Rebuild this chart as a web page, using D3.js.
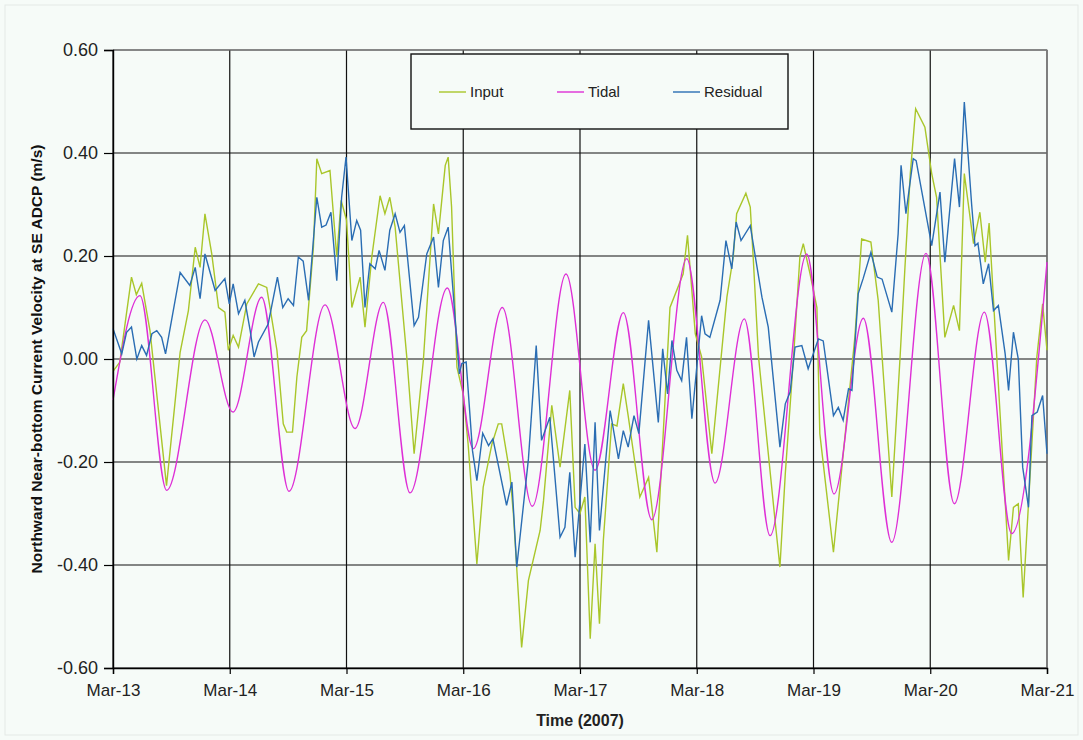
<!DOCTYPE html>
<html>
<head>
    <script src="https://cdn.jsdelivr.net/npm/d3@7"></script>
    <style>
        body { margin: 0; background: #f6fbf8; }
        text { font-family: "Liberation Sans", Arial, sans-serif; }
    </style>
</head>

<body>
<div id="chart"></div>

<script>

    // hours after Mar-13 00:00, velocity (m/s)
    var inputData = [
        [0, -0.024], [1.4, -0.006], [3.8, 0.159], [4.8, 0.125], [5.9, 0.147], [7.6, 0.055], [11.0, -0.246],
        [13.8, 0.013], [15.5, 0.094], [16.9, 0.217], [17.9, 0.178], [18.9, 0.282], [20.3, 0.204], [21.7, 0.10],
        [23.0, 0.091], [23.7, 0.017], [24.7, 0.046], [25.8, 0.023], [27.5, 0.107], [29.9, 0.146], [31.6, 0.139],
        [32.6, 0.081], [33.7, 0.017], [35.0, -0.126], [35.7, -0.142], [36.9, -0.142], [37.8, -0.035],
        [38.8, 0.042], [39.8, 0.055], [41.2, 0.217], [41.9, 0.389], [42.9, 0.36], [44.6, 0.366], [46.0, 0.198],
        [46.9, 0.308], [48.0, 0.27], [49.1, 0.10], [50.8, 0.159], [51.8, 0.062], [53.2, 0.198], [54.9, 0.317],
        [55.9, 0.282], [56.9, 0.314], [58.0, 0.256], [60.4, 0.003], [61.9, -0.184], [63.8, -0.003],
        [65.9, 0.301], [66.9, 0.243], [68.3, 0.376], [68.9, 0.392], [69.6, 0.295], [70.7, -0.016],
        [72.0, -0.068], [73.0, -0.165], [74.8, -0.398], [76.1, -0.249], [77.9, -0.165], [79.2, -0.126],
        [79.9, -0.126], [81.6, -0.223], [82.3, -0.30], [84.0, -0.56], [85.4, -0.43], [87.8, -0.333],
        [88.5, -0.275], [90.2, -0.09], [91.9, -0.21], [93.9, -0.061], [95.0, -0.288], [96.0, -0.30],
        [97.0, -0.268], [98.1, -0.543], [99.1, -0.359], [100.0, -0.514], [100.8, -0.352], [102.5, -0.126],
        [103.6, -0.13], [104.9, -0.048], [105.9, -0.11], [108.3, -0.268], [110.1, -0.23], [111.8, -0.375],
        [114.5, 0.10], [117.2, 0.165], [118.1, 0.24], [119.7, 0.049], [121.0, 0.004], [123.1, -0.184],
        [126.2, 0.12], [127.5, 0.198], [128.2, 0.282], [130.1, 0.322], [131.0, 0.295], [131.6, 0.198],
        [132.7, 0.004], [136.1, -0.314], [137.1, -0.404], [138.2, -0.223], [139.9, 0.004], [141.2, 0.198],
        [141.9, 0.224], [143.3, 0.165], [144.7, 0.10], [145.3, -0.145], [148.1, -0.375], [152.5, 0.042],
        [153.9, 0.233], [155.8, 0.227], [157.3, 0.114], [160.1, -0.268], [161.8, 0.004], [162.8, 0.178],
        [163.9, 0.36], [165.0, 0.486], [166.9, 0.45], [168.3, 0.36], [169.3, 0.314], [171.0, 0.042],
        [172.8, 0.104], [174.0, 0.055], [175.0, 0.36], [176.9, 0.224], [178.2, 0.285], [179.3, 0.188],
        [180.1, 0.264], [181.0, 0.114], [184.1, -0.391], [185.1, -0.288], [186.1, -0.281], [187.1, -0.463],
        [189.9, 0.003], [191.1, 0.107], [192.0, 0.017]
    ];

    // tidal highs and lows
    var tidalData = [
        [0, -0.08], [5.55, 0.123], [11.04, -0.255], [18.91, 0.076], [24.67, -0.103], [30.57, 0.12],
        [36.18, -0.257], [43.58, 0.105], [49.75, -0.135], [55.57, 0.11], [61.06, -0.26], [68.73, 0.138],
        [74.07, -0.174], [80.04, 0.10], [86.2, -0.286], [93.13, 0.165], [99.09, -0.216], [104.91, 0.09],
        [110.75, -0.312], [117.94, 0.195], [123.76, -0.241], [129.78, 0.078], [135.07, -0.343],
        [142.61, 0.204], [148.22, -0.262], [154.24, 0.079], [160.08, -0.356], [167.13, 0.205],
        [172.95, -0.281], [179.12, 0.091], [184.75, -0.339], [192.0, 0.188]
    ];

    var residualData = [
        [0, 0.059], [1.8, 0.01], [2.8, 0.052], [3.8, 0.062], [4.9, 0.0], [5.9, 0.026], [6.9, 0.007],
        [8.0, 0.049], [9.0, 0.055], [10.0, 0.042], [10.8, 0.01], [13.8, 0.168], [15.8, 0.143], [16.9, 0.178],
        [17.9, 0.117], [18.9, 0.204], [21.0, 0.133], [23.0, 0.156], [23.9, 0.107], [24.7, 0.146],
        [25.8, 0.088], [27.1, 0.114], [28.2, 0.055], [29.0, 0.004], [29.9, 0.033], [31.9, 0.068],
        [33.8, 0.159], [34.9, 0.10], [36.0, 0.117], [37.1, 0.104], [38.1, 0.198], [39.1, 0.19], [40.2, 0.114],
        [41.9, 0.314], [42.9, 0.256], [43.8, 0.26], [44.8, 0.285], [46.0, 0.152], [47.0, 0.314],
        [47.9, 0.392], [49.1, 0.23], [50.1, 0.269], [50.9, 0.25], [51.8, 0.10], [52.8, 0.185], [53.9, 0.175],
        [54.7, 0.211], [55.9, 0.172], [56.9, 0.25], [58.0, 0.282], [59.0, 0.246], [59.9, 0.259],
        [61.9, 0.065], [62.8, 0.081], [64.5, 0.204], [65.9, 0.237], [66.9, 0.139], [67.9, 0.23],
        [68.9, 0.256], [71.2, -0.029], [71.7, -0.009], [72.6, -0.006], [73.9, -0.178], [74.8, -0.236],
        [76.0, -0.144], [77.2, -0.168], [78.1, -0.155], [80.9, -0.284], [82.0, -0.239], [83.0, -0.404],
        [85.4, -0.194], [87.0, 0.026], [88.1, -0.158], [89.8, -0.113], [91.9, -0.346], [92.9, -0.327],
        [93.9, -0.22], [95.0, -0.385], [97.0, -0.165], [98.1, -0.356], [99.1, -0.123], [100.0, -0.333],
        [102.2, -0.10], [103.9, -0.194], [104.9, -0.139], [105.9, -0.171], [107.1, -0.11], [108.1, -0.145],
        [110.1, 0.075], [112.1, -0.123], [113.0, 0.02], [114.0, -0.068], [114.9, 0.036], [115.9, -0.022],
        [116.9, -0.042], [117.9, 0.042], [119.0, -0.116], [121.0, 0.084], [121.7, 0.049], [122.7, 0.042],
        [124.8, 0.114], [126.0, 0.23], [127.2, 0.175], [128.1, 0.266], [129.1, 0.23], [131.0, 0.259],
        [133.4, 0.12], [134.7, 0.062], [137.1, -0.171], [138.2, -0.087], [139.2, -0.064], [140.2, 0.023],
        [141.6, 0.026], [142.9, -0.019], [145.0, 0.039], [146.0, 0.035], [148.1, -0.11], [149.1, -0.094],
        [150.1, -0.119], [151.2, -0.058], [151.9, -0.061], [153.2, 0.127], [154.2, 0.156], [155.8, 0.207],
        [157.1, 0.159], [158.1, 0.155], [160.1, 0.091], [161.4, 0.243], [162.0, 0.376], [163.0, 0.282],
        [164.5, 0.389], [165.1, 0.385], [168.3, 0.22], [170.0, 0.324], [171.0, 0.188], [173.0, 0.389],
        [174.0, 0.295], [175.0, 0.499], [176.5, 0.301], [177.2, 0.22], [177.8, 0.225], [178.9, 0.146],
        [180.0, 0.185], [181.0, 0.094], [182.0, 0.104], [183.4, 0.01], [184.1, -0.061], [185.1, 0.052],
        [186.1, 0.0], [187.0, -0.21], [188.2, -0.288], [188.9, -0.11], [190.0, -0.103], [191.1, -0.071],
        [192.0, -0.184]
    ];

    var yTicks = [-0.6, -0.4, -0.2, 0, 0.2, 0.4, 0.6];
    var seriesNames = ['Input', 'Tidal', 'Residual'];
    var seriesColors = ['#a9c62a', '#de2fd6', '#2a6db3'];

    var start = new Date(2007, 2, 13);
    var end = new Date(2007, 2, 21);

    var width = 934;
    var height = 618;
    var padding = { left: 113, top: 50 };

    var svg = d3.select('#chart').append('svg')
        .attr('width', 1083)
        .attr('height', 740);

    svg.append('rect')
        .attr('x', 5).attr('y', 5)
        .attr('width', 1073).attr('height', 730)
        .attr('fill', '#f6fbf8')
        .attr('stroke', '#e4e9e6');

    var g = svg.append('g')
        .attr('transform', 'translate(' + padding.left + ', ' + padding.top + ')');

    var xScale = d3.scaleTime()
        .domain([start, end])
        .range([0, width]);

    var yScale = d3.scaleLinear()
        .domain([-0.6, 0.6])
        .range([height, 0]);

    function toDate(h) { return new Date(start.getTime() + h * 3600 * 1000); }

    var days = d3.timeDay.range(start, d3.timeDay.offset(end, 1));

    // grid
    g.selectAll('.hgrid')
        .data(yTicks)
        .enter()
        .append('line')
        .attr('x1', 0).attr('x2', width)
        .attr('y1', function(d) { return yScale(d); })
        .attr('y2', function(d) { return yScale(d); })
        .attr('stroke', '#111')
        .attr('stroke-width', 1.2);

    g.selectAll('.vgrid')
        .data(days)
        .enter()
        .append('line')
        .attr('x1', function(d) { return xScale(d); })
        .attr('x2', function(d) { return xScale(d); })
        .attr('y1', 0).attr('y2', height)
        .attr('stroke', '#111')
        .attr('stroke-width', 1.2);

    // top and right border in grey
    g.append('path')
        .attr('d', 'M0,0H' + width + 'V' + height)
        .attr('fill', 'none')
        .attr('stroke', '#8a8a8a')
        .attr('stroke-width', 1.2);

    var line = d3.line()
        .x(function(d) { return xScale(toDate(d[0])); })
        .y(function(d) { return yScale(d[1]); });

    g.append('path')
        .datum(inputData)
        .attr('fill', 'none')
        .attr('stroke', seriesColors[0])
        .attr('stroke-width', 1.4)
        .attr('d', line);

    g.append('path')
        .datum(tidalData)
        .attr('fill', 'none')
        .attr('stroke', seriesColors[1])
        .attr('stroke-width', 1.4)
        .attr('d', line.curve(d3.curveMonotoneX));

    line.curve(d3.curveLinear);

    g.append('path')
        .datum(residualData)
        .attr('fill', 'none')
        .attr('stroke', seriesColors[2])
        .attr('stroke-width', 1.4)
        .attr('d', line);

    // axes
    var yAxis = d3.axisLeft(yScale)
        .tickValues(yTicks)
        .tickSize(9)
        .tickPadding(6)
        .tickFormat(function(d) { return d.toFixed(2); });

    var yG = g.append('g').call(yAxis);
    yG.select('.domain').attr('stroke', '#000').attr('stroke-width', 1.4);
    yG.selectAll('.tick line').attr('stroke', '#000').attr('stroke-width', 1.2);
    yG.selectAll('text')
        .attr('font-size', 18)
        .attr('fill', '#222')
        .style('font-family', '"Liberation Sans", Arial, sans-serif');

    var xAxis = d3.axisBottom(xScale)
        .tickValues(days)
        .tickSize(6)
        .tickPadding(10)
        .tickFormat(d3.timeFormat('%b-%d'));

    var xG = g.append('g')
        .attr('transform', 'translate(0,' + height + ')')
        .call(xAxis);
    xG.select('.domain').attr('stroke', '#000').attr('stroke-width', 1.4);
    xG.selectAll('.tick line').attr('stroke', '#000').attr('stroke-width', 1.2);
    xG.selectAll('text')
        .attr('font-size', 17)
        .attr('fill', '#222')
        .style('font-family', '"Liberation Sans", Arial, sans-serif');

    // titles
    svg.append('text')
        .attr('x', padding.left + width / 2)
        .attr('y', 726)
        .attr('text-anchor', 'middle')
        .attr('font-size', 16)
        .attr('font-weight', 'bold')
        .attr('fill', '#222')
        .text('Time (2007)');

    svg.append('text')
        .attr('transform', 'translate(42,' + (padding.top + height / 2) + ') rotate(-90)')
        .attr('text-anchor', 'middle')
        .attr('font-size', 15.5)
        .attr('font-weight', 'bold')
        .attr('fill', '#111')
        .text('Northward Near-bottom Current Velocity at SE ADCP (m/s)');

    // legend
    var legend = svg.append('g');
    legend.append('rect')
        .attr('x', 411).attr('y', 54)
        .attr('width', 377).attr('height', 75)
        .attr('fill', '#f6fbf8')
        .attr('stroke', '#111')
        .attr('stroke-width', 1.4);

    var legendX = [439, 557, 673];
    seriesNames.forEach(function(name, i) {
        legend.append('line')
            .attr('x1', legendX[i]).attr('x2', legendX[i] + 27)
            .attr('y1', 92).attr('y2', 92)
            .attr('stroke', seriesColors[i])
            .attr('stroke-width', 1.4);
        legend.append('text')
            .attr('x', legendX[i] + 31)
            .attr('y', 97)
            .attr('font-size', 15)
            .attr('fill', '#222')
            .text(name);
    });

</script>
</body>
</html>
